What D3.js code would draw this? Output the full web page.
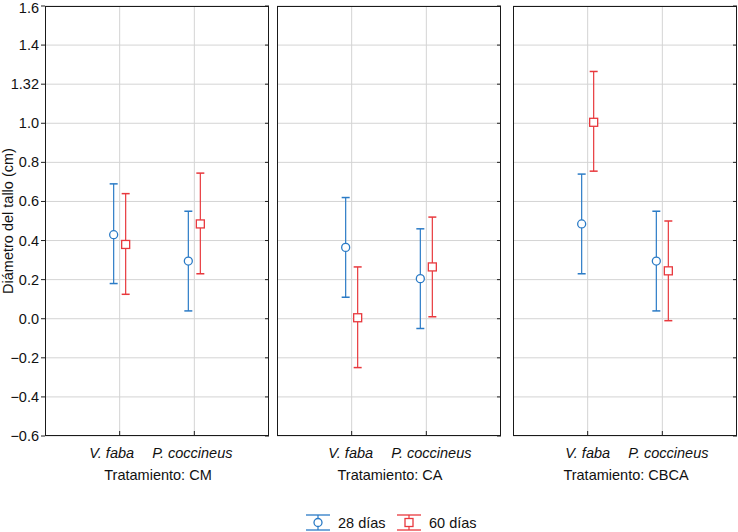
<!DOCTYPE html>
<html>
<head>
<meta charset="utf-8">
<script src="https://cdn.jsdelivr.net/npm/d3@7"></script>
<style>
  body { margin: 0; background: #fff; }
  text { font-family: "Liberation Sans", Arial, sans-serif; }
</style>
</head>
<body>
<svg id="chart" width="738" height="532"></svg>
<script>
// data
const treatments = ["CM", "CA", "CBCA"]
const species = ["V. faba", "P. coccineus"]
const seriesNames = ["28 días", "60 días"]
const yTicks = [1.6, 1.4, 1.2, 1.0, 0.8, 0.6, 0.4, 0.2, 0.0, -0.2, -0.4, -0.6]
const yTickLabels = ["1.6", "1.4", "1.32", "1.0", "0.8", "0.6", "0.4", "0.2", "0.0", "\u22120.2", "\u22120.4", "\u22120.6"]

// mean, lower, upper per treatment, per species
const mean28 = [[0.43, 0.295], [0.365, 0.205], [0.485, 0.295]]
const low28 = [[0.18, 0.04], [0.11, -0.05], [0.23, 0.04]]
const high28 = [[0.69, 0.55], [0.62, 0.46], [0.74, 0.55]]

const mean60 = [[0.38, 0.485], [0.005, 0.265], [1.005, 0.245]]
const low60 = [[0.125, 0.23], [-0.25, 0.01], [0.755, -0.01]]
const high60 = [[0.64, 0.745], [0.265, 0.52], [1.265, 0.50]]

const blue = "#2b7bc6"
const red = "#e8383d"
const fontSize = 14.5

const svg = d3.select("#chart")

const plotTop = 6, plotBottom = 436
const panelLeft = [45, 277, 513]
const panelW = 224
// the category labels are not quite centred on the gridlines in the original
const labelDx = [[-8, -2], [-1, 5], [0, 6]]

const y = d3.scaleLinear().domain([-0.6, 1.6]).range([plotBottom, plotTop])

treatments.forEach((t, ti) => {
    const x0 = panelLeft[ti]
    const x = d3.scalePoint().domain(species).range([x0, x0 + panelW]).padding(1)
    const g = svg.append("g")

    // gridlines
    g.selectAll(".hgrid").data(yTicks).enter().append("line")
        .attr("x1", x0).attr("x2", x0 + panelW)
        .attr("y1", d => y(d)).attr("y2", d => y(d))
        .attr("stroke", "#d4d4d4").attr("stroke-width", 1)
    g.selectAll(".vgrid").data(species).enter().append("line")
        .attr("x1", d => x(d)).attr("x2", d => x(d))
        .attr("y1", plotTop).attr("y2", plotBottom)
        .attr("stroke", "#d4d4d4").attr("stroke-width", 1)

    // bottom ticks
    g.selectAll(".xtick").data(species).enter().append("line")
        .attr("x1", d => x(d)).attr("x2", d => x(d))
        .attr("y1", plotBottom - 5).attr("y2", plotBottom)
        .attr("stroke", "#222")

    // right ticks
    g.selectAll(".rtick").data(yTicks).enter().append("line")
        .attr("x1", x0 + panelW - 4).attr("x2", x0 + panelW)
        .attr("y1", d => y(d)).attr("y2", d => y(d))
        .attr("stroke", "#222")

    // frame
    g.append("rect")
        .attr("x", x0 + 0.5).attr("y", plotTop + 0.5)
        .attr("width", panelW - 1).attr("height", plotBottom - plotTop - 1)
        .attr("fill", "none").attr("stroke", "#1a1a1a").attr("stroke-width", 1)

    // category labels
    g.selectAll(".cat").data(species).enter().append("text")
        .attr("x", (d, i) => x(d) + labelDx[ti][i]).attr("y", 458)
        .attr("text-anchor", "middle").attr("font-size", fontSize).attr("font-style", "italic")
        .attr("fill", "#111")
        .text(d => d)

    g.append("text")
        .attr("x", x0 + panelW / 2 + 1).attr("y", 480)
        .attr("text-anchor", "middle").attr("font-size", fontSize).attr("fill", "#111")
        .text("Tratamiento: " + t)

    const series = [
        {mean: mean28, low: low28, high: high28, color: blue, dx: -6, shape: "circle"},
        {mean: mean60, low: low60, high: high60, color: red, dx: 6, shape: "square"}
    ]

    series.forEach(s => {
        species.forEach((sp, si) => {
            const cx = x(sp) + s.dx
            g.append("line")
                .attr("x1", cx).attr("x2", cx)
                .attr("y1", y(s.low[ti][si])).attr("y2", y(s.high[ti][si]))
                .attr("stroke", s.color).attr("stroke-width", 1.2)
            ;[s.low[ti][si], s.high[ti][si]].forEach(v => {
                g.append("line")
                    .attr("x1", cx - 4).attr("x2", cx + 4)
                    .attr("y1", y(v)).attr("y2", y(v))
                    .attr("stroke", s.color).attr("stroke-width", 1.5)
            })
            const cy = y(s.mean[ti][si])
            if (s.shape === "circle") {
                g.append("circle").attr("cx", cx).attr("cy", cy).attr("r", 4)
                    .attr("fill", "#fff").attr("stroke", s.color).attr("stroke-width", 1.3)
            } else {
                g.append("rect").attr("x", cx - 4).attr("y", cy - 4)
                    .attr("width", 8).attr("height", 8)
                    .attr("fill", "#fff").attr("stroke", s.color).attr("stroke-width", 1.3)
            }
        })
    })
})

// y axis labels on the first panel
const yAxis = svg.append("g")
yAxis.selectAll("line").data(yTicks).enter().append("line")
    .attr("x1", 41).attr("x2", 45)
    .attr("y1", d => y(d)).attr("y2", d => y(d))
    .attr("stroke", "#222")
yAxis.selectAll("text").data(yTicks).enter().append("text")
    .attr("x", 39).attr("y", d => Math.max(y(d) + 5, 13))
    .attr("text-anchor", "end").attr("font-size", fontSize).attr("fill", "#111")
    .text((d, i) => yTickLabels[i])

svg.append("text")
    .attr("transform", "translate(13,221) rotate(-90)")
    .attr("text-anchor", "middle").attr("font-size", fontSize).attr("fill", "#111")
    .text("Diámetro del tallo (cm)")

// legend
const legend = svg.append("g")
const legendX = [306, 397]
seriesNames.forEach((name, i) => {
    const lx = legendX[i]
    const color = i === 0 ? blue : red
    const cx = lx + 12
    legend.append("line").attr("x1", lx).attr("x2", lx + 24).attr("y1", 515).attr("y2", 515)
        .attr("stroke", color).attr("stroke-width", 1.3)
    legend.append("line").attr("x1", lx).attr("x2", lx + 24).attr("y1", 530).attr("y2", 530)
        .attr("stroke", color).attr("stroke-width", 1.3)
    legend.append("line").attr("x1", cx).attr("x2", cx).attr("y1", 515).attr("y2", 530)
        .attr("stroke", color).attr("stroke-width", 1.2)
    if (i === 0) {
        legend.append("circle").attr("cx", cx).attr("cy", 522.5).attr("r", 4)
            .attr("fill", "#fff").attr("stroke", color).attr("stroke-width", 1.3)
    } else {
        legend.append("rect").attr("x", cx - 4).attr("y", 518.5).attr("width", 8).attr("height", 8)
            .attr("fill", "#fff").attr("stroke", color).attr("stroke-width", 1.3)
    }
    legend.append("text").attr("x", lx + 32).attr("y", 528)
        .attr("font-size", fontSize).attr("fill", "#111")
        .text(name)
})
</script>
</body>
</html>
